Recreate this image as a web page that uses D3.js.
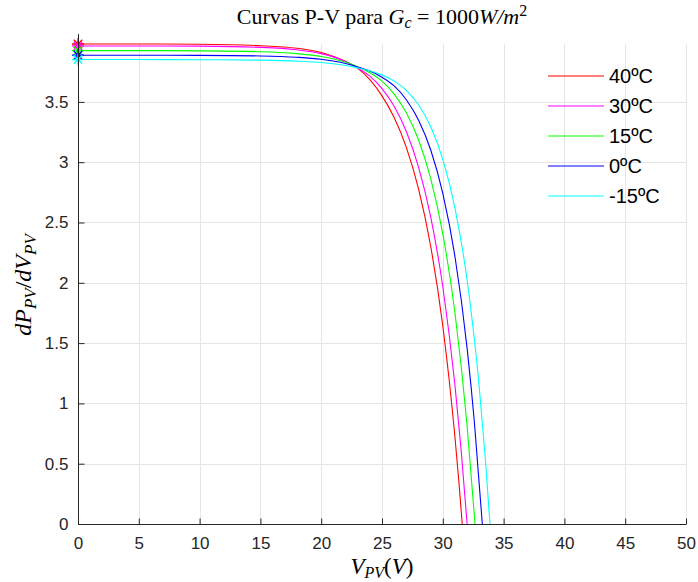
<!DOCTYPE html>
<html><head><meta charset="utf-8">
<script src="https://cdn.jsdelivr.net/npm/d3@7"></script>
<style>body{margin:0;background:#fff}svg{display:block}</style>
</head><body>
<svg id="c" width="698" height="582"></svg>
<script>
// ---- data ----
const legendLabels = ["40ºC", "30ºC", "15ºC", "0ºC", "-15ºC"];
const xTicks = [0, 5, 10, 15, 20, 25, 30, 35, 40, 45, 50];
const yTicks = [0, 0.5, 1, 1.5, 2, 2.5, 3, 3.5];
const xTickLabels = ["0","5","10","15","20","25","30","35","40","45","50"];
const yTickLabels = ["0","0.5","1","1.5","2","2.5","3","3.5"];

const v40 = [0, 5, 10, 15, 18, 20, 22, 23, 24, 25, 26, 27, 28, 29, 30, 31, 31.3, 31.6];
const d40 = [3.98, 3.98, 3.978, 3.966, 3.945, 3.91, 3.835, 3.778, 3.685, 3.55, 3.37, 3.123, 2.781, 2.305, 1.642, 0.719, 0.377, 0];

const v30 = [0, 5, 10, 15, 18, 20, 22, 23, 24, 25, 26, 27, 28, 29, 30, 31, 31.5, 32.0];
const d30 = [3.964, 3.964, 3.962, 3.952, 3.932, 3.9, 3.835, 3.782, 3.713, 3.610, 3.463, 3.254, 2.961, 2.548, 1.967, 1.149, 0.623, 0];

const v15 = [0, 5, 10, 15, 18, 20, 22, 23, 24, 25, 26, 27, 28, 29, 30, 31, 32, 32.65];
const d15 = [3.925, 3.925, 3.923, 3.916, 3.9, 3.877, 3.83, 3.792, 3.742, 3.672, 3.565, 3.410, 3.186, 2.865, 2.406, 1.750, 0.813, 0];

const v0 = [0, 5, 10, 15, 18, 20, 22, 23, 24, 25, 26, 27, 28, 29, 30, 31, 32, 32.6, 33.25];
const d0 = [3.887, 3.887, 3.886, 3.881, 3.87, 3.853, 3.818, 3.79, 3.756, 3.705, 3.632, 3.518, 3.350, 3.103, 2.742, 2.218, 1.456, 0.841, 0];

const vm15 = [0, 5, 10, 15, 18, 20, 22, 23, 24, 25, 26, 27, 28, 29, 30, 31, 32, 33, 33.5, 33.88];
const dm15 = [3.851, 3.851, 3.85, 3.846, 3.838, 3.826, 3.802, 3.782, 3.758, 3.724, 3.672, 3.596, 3.476, 3.296, 3.024, 2.620, 2.021, 1.131, 0.537, 0];

const seriesV = [v40, v30, v15, v0, vm15];
const seriesD = [d40, d30, d15, d0, dm15];
const colors = ["#ff0000", "#ff00ff", "#00ff00", "#0000ff", "#00ffff"];

// ---- layout ----
const L = 78, R = 686, T = 44, B = 524;
const svg = d3.select("#c");
const x = d3.scaleLinear().domain([0, 50]).range([L, R]);
const yMax = d3.max(seriesD, s => d3.max(s));
const y = d3.scaleLinear().domain([0, yMax]).range([B, T]);

const axisColor = "#262626";
const gridColor = "#e5e5e5";
const tickFont = "Liberation Sans, Arial, Helvetica, sans-serif";

// grid
const g = svg.append("g");
g.selectAll("line.gx").data(xTicks).join("line")
  .attr("x1", d => Math.round(x(d)) + 0.5).attr("x2", d => Math.round(x(d)) + 0.5)
  .attr("y1", T).attr("y2", B)
  .attr("stroke", gridColor).attr("stroke-width", 1);
g.selectAll("line.gy").data(yTicks).join("line")
  .attr("y1", d => Math.round(y(d)) + 0.5).attr("y2", d => Math.round(y(d)) + 0.5)
  .attr("x1", L).attr("x2", R)
  .attr("stroke", gridColor).attr("stroke-width", 1);

// curves
const line = d3.line().x(d => x(d[0])).y(d => y(d[1])).curve(d3.curveMonotoneX);
seriesV.forEach((vs, i) => {
  const pts = vs.map((v, k) => [v, seriesD[i][k]]);
  svg.append("path").attr("d", line(pts))
    .attr("fill", "none").attr("stroke", colors[i]).attr("stroke-width", 1.1);
});

// asterisk markers at V = 0
const star8 = {
  draw(ctx, size) {
    const r = Math.sqrt(size) / 2;
    const q = r * Math.SQRT1_2;
    ctx.moveTo(-r, 0); ctx.lineTo(r, 0);
    ctx.moveTo(0, -r); ctx.lineTo(0, r);
    ctx.moveTo(-q, -q); ctx.lineTo(q, q);
    ctx.moveTo(-q, q); ctx.lineTo(q, -q);
  }
};
const sym = d3.symbol().type(star8).size(144);
seriesV.forEach((vs, i) => {
  svg.append("path").attr("d", sym())
    .attr("transform", `translate(${x(vs[0])},${y(seriesD[i][0])})`)
    .attr("fill", "none").attr("stroke", colors[i]).attr("stroke-width", 1.3);
});

// axes
const xAxis = d3.axisBottom(x).tickValues(xTicks).tickFormat((d, i) => xTickLabels[i]).tickSizeInner(-6).tickSizeOuter(0).tickPadding(12);
const yAxis = d3.axisLeft(y).tickValues(yTicks).tickFormat((d, i) => yTickLabels[i]).tickSizeInner(-6).tickSizeOuter(0).tickPadding(10);
const gx = svg.append("g").attr("transform", `translate(0,${B + 0.5})`).call(xAxis);
const gy = svg.append("g").attr("transform", `translate(${L + 0.5},0)`).call(yAxis);
[gx, gy].forEach(a => {
  a.select(".domain").attr("stroke", axisColor).attr("stroke-width", 1);
  a.selectAll(".tick line").attr("stroke", axisColor);
  a.selectAll(".tick text").attr("fill", "#262626").attr("font-size", 17).attr("font-family", tickFont);
});
gx.select(".domain").attr("d", `M${L},0H${R}`);
gy.select(".domain").attr("d", `M0,${B}V${T - 10}`);
gx.selectAll(".tick text").attr("dy", "0.71em");

// legend
const lg = svg.append("g");
legendLabels.forEach((lab, i) => {
  const yy = 76 + i * 30;
  lg.append("line").attr("x1", 548).attr("x2", 604).attr("y1", yy).attr("y2", yy)
    .attr("stroke", colors[i]).attr("stroke-width", 1.1);
  lg.append("text").attr("x", 609).attr("y", yy).attr("dy", "0.36em")
    .attr("font-family", tickFont).attr("font-size", 20).attr("fill", "#000").text(lab);
});

// title
const serif = "Liberation Serif, 'DejaVu Serif', serif";
const title = svg.append("text").attr("x", 382).attr("y", 24).attr("text-anchor", "middle")
  .attr("font-family", serif).attr("font-size", 22).attr("fill", "#000");
title.append("tspan").text("Curvas P-V para ");
title.append("tspan").attr("font-style", "italic").text("G");
title.append("tspan").attr("font-style", "italic").attr("font-size", 16).attr("dy", 4).text("c");
title.append("tspan").attr("dy", -4).text(" = 1000");
title.append("tspan").attr("font-style", "italic").text("W/m");
title.append("tspan").attr("font-size", 16).attr("dy", -8).text("2");

// x label
const xl = svg.append("text").attr("x", 382).attr("y", 574).attr("text-anchor", "middle")
  .attr("font-family", serif).attr("font-size", 23).attr("fill", "#000");
xl.append("tspan").attr("font-style", "italic").text("V");
xl.append("tspan").attr("font-style", "italic").attr("font-size", 16).attr("dy", 4).text("PV");
xl.append("tspan").attr("dy", -4).text("(");
xl.append("tspan").attr("font-style", "italic").text("V");
xl.append("tspan").text(")");

// y label
const yl = svg.append("text").attr("transform", "translate(31,285) rotate(-90)").attr("text-anchor", "middle")
  .attr("font-family", serif).attr("font-size", 24).attr("fill", "#000");
yl.append("tspan").attr("font-style", "italic").text("dP");
yl.append("tspan").attr("font-style", "italic").attr("font-size", 17).attr("dy", 5).text("PV");
yl.append("tspan").attr("dy", -5).text("/");
yl.append("tspan").attr("font-style", "italic").text("dV");
yl.append("tspan").attr("font-style", "italic").attr("font-size", 17).attr("dy", 5).text("PV");
</script>
</body></html>
